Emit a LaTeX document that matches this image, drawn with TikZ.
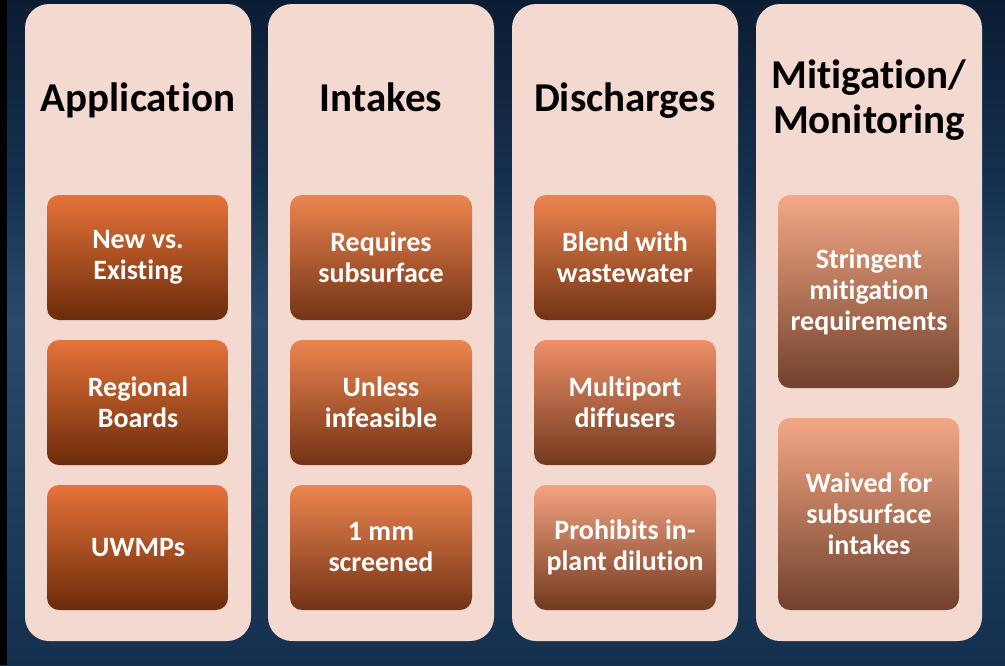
\documentclass[tikz,border=0pt]{standalone}
\usepackage{fontspec}
\setmainfont{Carlito}[Ligatures={NoCommon,NoContextual}]
\definecolor{colfill}{HTML}{F3D9D0}
\definecolor{bgtop}{HTML}{0B1D33}
\definecolor{bgup}{HTML}{15304F}
\definecolor{bgmid}{HTML}{2B4A69}
\definecolor{bgbot}{HTML}{14304E}
\definecolor{aT}{HTML}{E6733A}\definecolor{aB}{HTML}{6B2B0A}
\definecolor{bT}{HTML}{EC8550}\definecolor{bB}{HTML}{733315}
\definecolor{cT}{HTML}{EF9068}\definecolor{cB}{HTML}{72391F}
\definecolor{dT}{HTML}{F5A886}\definecolor{dB}{HTML}{71412C}
\tikzset{
  column/.style={fill=colfill, rounded corners=24pt},
  title/.style={font=\bfseries\fontsize{41}{45}\selectfont, text=black, align=center, anchor=base},
  boxtext/.style={font=\bfseries\fontsize{28}{31}\selectfont, text=white, align=center, inner sep=0pt},
}
\begin{document}
\begin{tikzpicture}[x=1pt,y=-1pt]
\useasboundingbox (0,0) rectangle (1005,665);
% background
\shade[top color=bgtop, bottom color=bgup] (0,0) rectangle (1005,180);
\shade[top color=bgup, bottom color=bgmid] (0,180) rectangle (1005,320);
\shade[top color=bgmid, bottom color=bgbot] (0,320) rectangle (1005,665);
\fill[black] (0,0) rectangle (7,665);
% columns
\fill[column] (25,4) rectangle (251,641);
\fill[column] (268,4) rectangle (494,641);
\fill[column] (512,4) rectangle (738,641);
\fill[column] (756,4) rectangle (982,641);
% titles
\node[title] (t1) at (138,111) {Application};
\node[title] (t2) at (381,111) {Intakes};
\node[title] (t3) at (625,111) {Discharges};
\node[title] (t4a) at (869,88) {Mitigation/};
\node[title] (t4b) at (869,133) {Monitoring};
% boxes column 1
\shade[top color=aT, bottom color=aB, rounded corners=12pt] (47,195) rectangle (228,320);
\shade[top color=aT, bottom color=aB, rounded corners=12pt] (47,340) rectangle (228,465);
\shade[top color=aT, bottom color=aB, rounded corners=12pt] (47,485) rectangle (228,610);
\node[boxtext] (a1) at (138,257.5) {New vs.\\Existing};
\node[boxtext] (a2) at (138,402.5) {Regional\\Boards};
\node[boxtext] (a3) at (138,547.5) {UWMPs};
% boxes column 2
\shade[top color=bT, bottom color=bB, rounded corners=12pt] (290,195) rectangle (472,320);
\shade[top color=bT, bottom color=bB, rounded corners=12pt] (290,340) rectangle (472,465);
\shade[top color=bT, bottom color=bB, rounded corners=12pt] (290,485) rectangle (472,610);
\node[boxtext] (b1) at (381,257.5) {Requires\\subsurface};
\node[boxtext] (b2) at (381,402.5) {Unless\\infeasible};
\node[boxtext] (b3) at (381,547.5) {1 mm\\screened};
% boxes column 3
\shade[top color=bT, bottom color=bB, rounded corners=12pt] (534,195) rectangle (716,320);
\shade[top color=cT, bottom color=cB, rounded corners=12pt] (534,340) rectangle (716,465);
\shade[top color=dT!80!cT, bottom color=cB, rounded corners=12pt] (534,485) rectangle (716,610);
\node[boxtext] (c1) at (625,257.5) {Blend with\\wastewater};
\node[boxtext] (c2) at (625,402.5) {Multiport\\diffusers};
\node[boxtext] (c3) at (625,547.5) {Prohibits in-\\plant dilution};
% boxes column 4
\shade[top color=dT, bottom color=dB, rounded corners=12pt] (778,195) rectangle (959,388);
\shade[top color=dT, bottom color=dB, rounded corners=12pt] (778,418) rectangle (959,610);
\node[boxtext] (d1) at (869,291.5) {Stringent\\mitigation\\requirements};
\node[boxtext] (d2) at (869,514) {Waived for\\subsurface\\intakes};
\end{tikzpicture}
\end{document}
